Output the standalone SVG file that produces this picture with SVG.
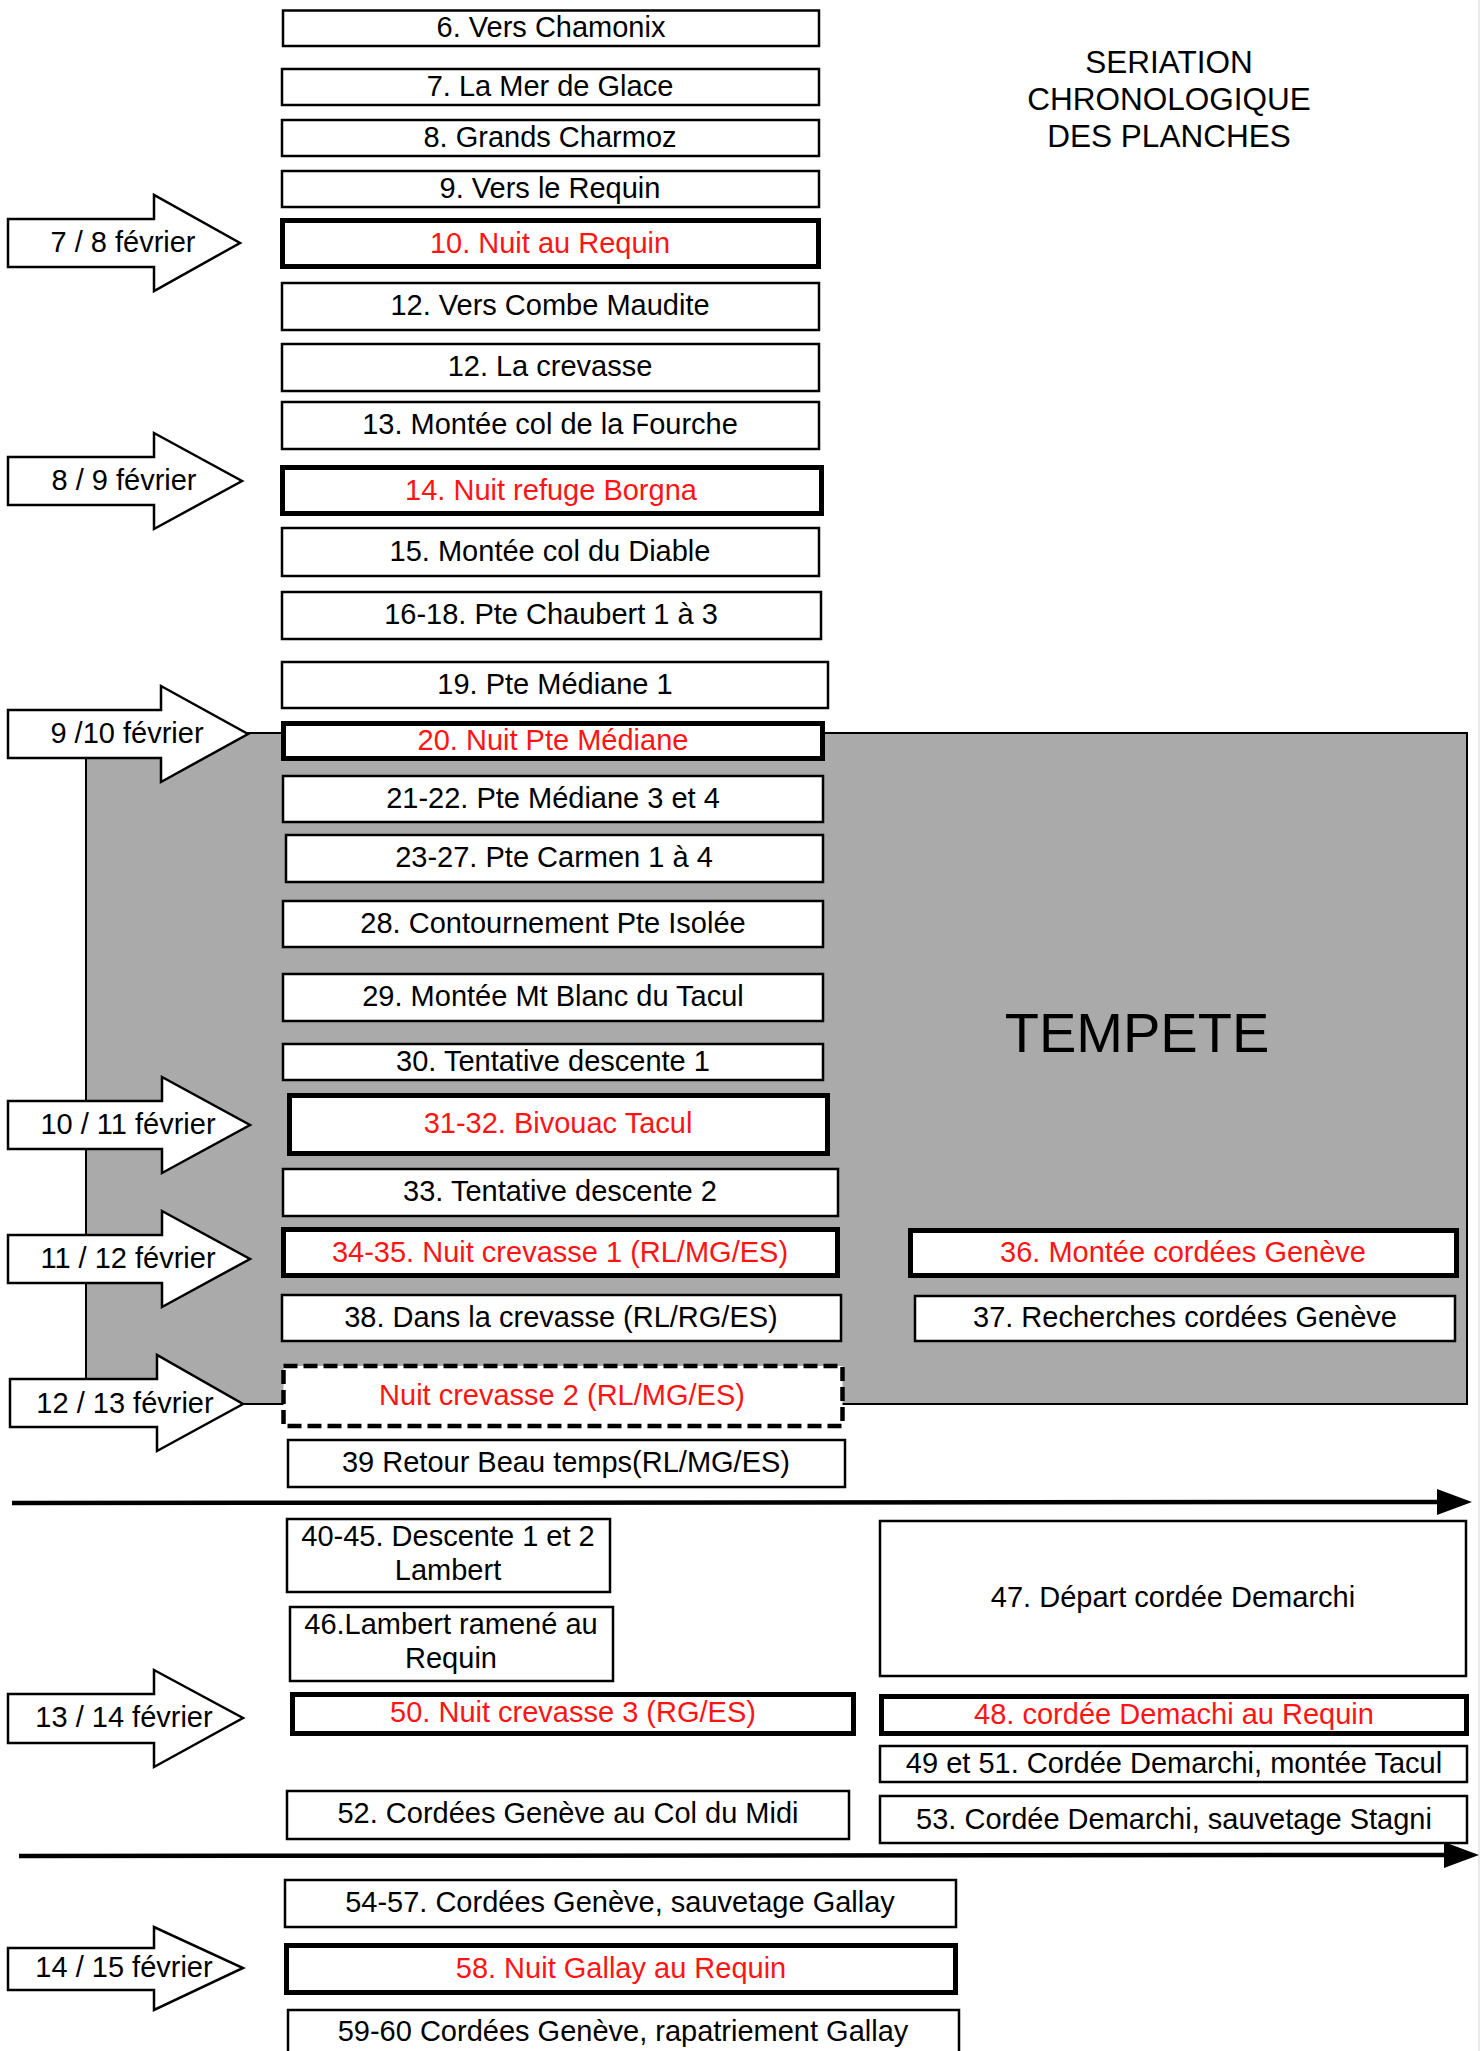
<svg xmlns="http://www.w3.org/2000/svg" width="1483" height="2051" viewBox="0 0 1483 2051">
<defs>
<style>
text{font-family:"Liberation Sans",Arial,Helvetica,sans-serif;font-size:29px;text-anchor:middle;fill:#000}
.r{fill:#ff1414}
.b{fill:#fff;stroke:#000;stroke-width:2.5}
.t{fill:#fff;stroke:#000;stroke-width:5}
.d{fill:#fff;stroke:#000;stroke-width:4.5;stroke-dasharray:14 6}
.ar{fill:#fff;stroke:#000;stroke-width:2.5;stroke-linejoin:miter}
.tl{stroke:#000;stroke-width:4.5;fill:none}
</style>
<marker id="head" markerUnits="userSpaceOnUse" markerWidth="36" markerHeight="27" refX="0" refY="13" orient="auto">
<path d="M0,0 L35,13 L0,26 Z" fill="#000"/>
</marker>
</defs>
<rect width="1483" height="2051" fill="#fff"/>
<line x1="1479" y1="0" x2="1479" y2="2051" stroke="#e2e2e2" stroke-width="1.5"/>

<g id="title">
<text x="1169" y="73" style="font-size:31.5px">SERIATION</text>
<text x="1169" y="110" style="font-size:31.5px">CHRONOLOGIQUE</text>
<text x="1169" y="147" style="font-size:31.5px">DES PLANCHES</text>
</g>

<g id="tempete">
<rect x="86" y="733" width="1381" height="671" fill="#aaaaaa" stroke="#000" stroke-width="2"/>
<text x="1137" y="1052" style="font-size:56px">TEMPETE</text>
</g>

<g id="connectors">
<line class="tl" x1="12" y1="1503" x2="1437" y2="1502" marker-end="url(#head)"/>
<line class="tl" x1="19" y1="1856" x2="1444" y2="1855" marker-end="url(#head)"/>
</g>

<g id="dates">
<g id="d1"><path class="ar" d="M8,219 L154,219 L154,195 L240,243 L154,291 L154,267 L8,267 Z"/><text x="123" y="252">7 / 8 février</text></g>
<g id="d2"><path class="ar" d="M8,457 L154,457 L154,433 L242,481 L154,529 L154,505 L8,505 Z"/><text x="124" y="490">8 / 9 février</text></g>
<g id="d3"><path class="ar" d="M8,710 L161,710 L161,686 L248,734 L161,782 L161,758 L8,758 Z"/><text x="127" y="743">9 /10 février</text></g>
<g id="d4"><path class="ar" d="M8,1101 L162,1101 L162,1077 L250,1125 L162,1173 L162,1149 L8,1149 Z"/><text x="128" y="1134">10 / 11 février</text></g>
<g id="d5"><path class="ar" d="M8,1235 L162,1235 L162,1211 L250,1259 L162,1307 L162,1283 L8,1283 Z"/><text x="128" y="1268">11 / 12 février</text></g>
<g id="d6"><path class="ar" d="M10,1379 L157,1379 L157,1355 L243,1404 L157,1451 L157,1427 L10,1427 Z"/><text x="125" y="1413">12 / 13 février</text></g>
<g id="d7"><path class="ar" d="M8,1694 L154,1694 L154,1670 L243,1718 L154,1767 L154,1743 L8,1743 Z"/><text x="124" y="1727">13 / 14 février</text></g>
<g id="d8"><path class="ar" d="M8,1948 L154,1948 L154,1927 L243,1968 L154,2010 L154,1990 L8,1990 Z"/><text x="124" y="1977">14 / 15 février</text></g>
</g>

<g id="nodes">
<g id="n6"><rect class="b" x="283" y="10.5" width="536" height="35.5"/><text x="551" y="37">6. Vers Chamonix</text></g>
<g id="n7"><rect class="b" x="282" y="69" width="537" height="36"/><text x="550" y="96">7. La Mer de Glace</text></g>
<g id="n8"><rect class="b" x="282" y="120" width="537" height="36"/><text x="550" y="147">8. Grands Charmoz</text></g>
<g id="n9"><rect class="b" x="282" y="171" width="537" height="36"/><text x="550" y="198">9. Vers le Requin</text></g>
<g id="n10"><rect class="t" x="282.5" y="220.5" width="536" height="46"/><text class="r" x="550" y="253">10. Nuit au Requin</text></g>
<g id="n12a"><rect class="b" x="282" y="283" width="537" height="47"/><text x="550" y="315">12. Vers Combe Maudite</text></g>
<g id="n12b"><rect class="b" x="282" y="344" width="537" height="47"/><text x="550" y="376">12. La crevasse</text></g>
<g id="n13"><rect class="b" x="282" y="402" width="537" height="47"/><text x="550" y="434">13. Montée col de la Fourche</text></g>
<g id="n14"><rect class="t" x="282.5" y="467.5" width="539" height="46"/><text class="r" x="551" y="500">14. Nuit refuge Borgna</text></g>
<g id="n15"><rect class="b" x="282" y="528" width="537" height="48"/><text x="550" y="561">15. Montée col du Diable</text></g>
<g id="n16"><rect class="b" x="282" y="592" width="539" height="47"/><text x="551" y="624">16-18. Pte Chaubert 1 à 3</text></g>
<g id="n19"><rect class="b" x="282" y="662" width="546" height="46"/><text x="555" y="694">19. Pte Médiane 1</text></g>
<g id="n20"><rect class="t" x="283.5" y="723.5" width="539" height="35"/><text class="r" x="553" y="750">20. Nuit Pte Médiane</text></g>
<g id="n21"><rect class="b" x="283" y="776" width="540" height="46"/><text x="553" y="808">21-22. Pte Médiane 3 et 4</text></g>
<g id="n23"><rect class="b" x="286" y="835" width="537" height="47"/><text x="554" y="867">23-27. Pte Carmen 1 à 4</text></g>
<g id="n28"><rect class="b" x="283" y="901" width="540" height="46"/><text x="553" y="933">28. Contournement Pte Isolée</text></g>
<g id="n29"><rect class="b" x="283" y="974" width="540" height="47"/><text x="553" y="1006">29. Montée Mt Blanc du Tacul</text></g>
<g id="n30"><rect class="b" x="283" y="1044" width="540" height="36"/><text x="553" y="1071">30. Tentative descente 1</text></g>
<g id="n31"><rect class="t" x="289.5" y="1095.5" width="538" height="58"/><text class="r" x="558" y="1133">31-32. Bivouac Tacul</text></g>
<g id="n33"><rect class="b" x="283" y="1169" width="555" height="47"/><text x="560" y="1201">33. Tentative descente 2</text></g>
<g id="n34"><rect class="t" x="283.5" y="1229.5" width="554" height="46"/><text class="r" x="560" y="1262">34-35. Nuit crevasse 1 (RL/MG/ES)</text></g>
<g id="n38"><rect class="b" x="282" y="1295" width="559" height="46"/><text x="561" y="1327">38. Dans la crevasse (RL/RG/ES)</text></g>
<g id="n36"><rect class="t" x="910.5" y="1230.5" width="546" height="45"/><text class="r" x="1183" y="1262">36. Montée cordées Genève</text></g>
<g id="n37"><rect class="b" x="915" y="1296" width="540" height="45"/><text x="1185" y="1327">37. Recherches cordées Genève</text></g>
<g id="nc2"><rect class="d" x="283.5" y="1366" width="559" height="60"/><text class="r" x="562" y="1405">Nuit crevasse 2 (RL/MG/ES)</text></g>
<g id="n39"><rect class="b" x="288" y="1440" width="557" height="47"/><text x="566" y="1472">39 Retour Beau temps(RL/MG/ES)</text></g>
<g id="n40"><rect class="b" x="287" y="1519" width="323" height="73"/><text x="448" y="1546">40-45. Descente 1 et 2</text><text x="448" y="1580">Lambert</text></g>
<g id="n46"><rect class="b" x="290" y="1607" width="323" height="74"/><text x="451" y="1634">46.Lambert ramené au</text><text x="451" y="1668">Requin</text></g>
<g id="n47"><rect class="b" x="880" y="1521" width="586" height="155"/><text x="1173" y="1607">47. Départ cordée Demarchi</text></g>
<g id="n50"><rect class="t" x="292.5" y="1694.5" width="561" height="39"/><text class="r" x="573" y="1722">50. Nuit crevasse 3 (RG/ES)</text></g>
<g id="n48"><rect class="t" x="881.5" y="1696.5" width="585" height="37"/><text class="r" x="1174" y="1724">48. cordée Demachi au Requin</text></g>
<g id="n49"><rect class="b" x="880" y="1746" width="587" height="36"/><text x="1174" y="1773">49 et 51. Cordée Demarchi, montée Tacul</text></g>
<g id="n52"><rect class="b" x="287" y="1791" width="562" height="48"/><text x="568" y="1823">52. Cordées Genève au Col du Midi</text></g>
<g id="n53"><rect class="b" x="880" y="1796" width="587" height="47"/><text x="1174" y="1829">53. Cordée Demarchi, sauvetage Stagni</text></g>
<g id="n54"><rect class="b" x="285" y="1880" width="671" height="47"/><text x="620" y="1912">54-57. Cordées Genève, sauvetage Gallay</text></g>
<g id="n58"><rect class="t" x="286.5" y="1945.5" width="669" height="47"/><text class="r" x="621" y="1978">58. Nuit Gallay au Requin</text></g>
<g id="n59"><rect class="b" x="288" y="2010" width="671" height="60"/><text x="623" y="2041">59-60 Cordées Genève, rapatriement Gallay</text></g>
</g>
</svg>
